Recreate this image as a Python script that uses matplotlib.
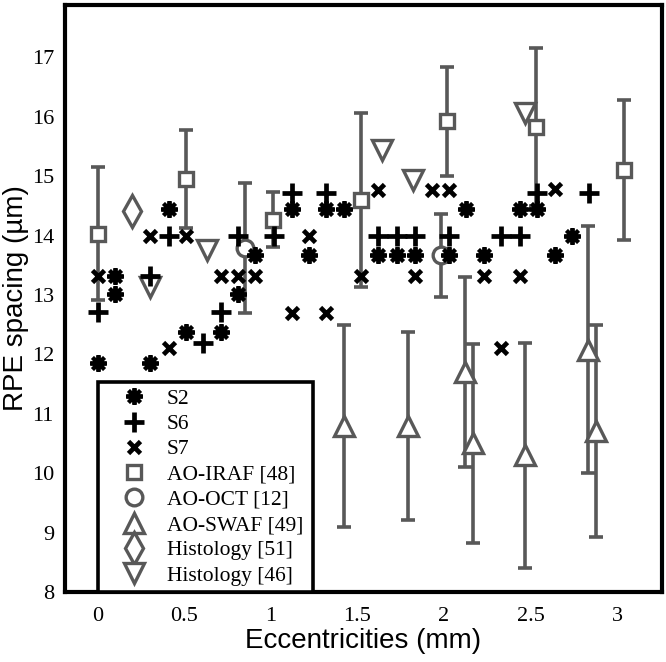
import matplotlib
matplotlib.use("Agg")
import matplotlib.pyplot as plt
from matplotlib.lines import Line2D

# subject data (eccentricity mm, RPE spacing um)
s2_x = [0, 0.10, 0.10, 0.30, 0.41, 0.51, 0.71, 0.81, 0.91, 1.12, 1.22, 1.32, 1.42,
        1.62, 1.73, 1.83, 2.03, 2.13, 2.23, 2.44, 2.54, 2.64, 2.74]
s2_y = [11.85, 13.32, 13.02, 11.85, 14.45, 12.38, 12.38, 13.02, 13.67, 14.45, 13.67, 14.45, 14.45,
        13.67, 13.67, 13.67, 13.67, 14.45, 13.67, 14.45, 14.45, 13.67, 14.0]

s6_x = [0, 0.30, 0.41, 0.61, 0.71, 0.81, 1.02, 1.12, 1.32, 1.62, 1.73, 1.83, 2.03,
        2.33, 2.44, 2.54, 2.84]
s6_y = [12.71, 13.32, 14.0, 12.19, 12.71, 14.0, 14.0, 14.72, 14.72, 14.0, 14.0, 14.0, 14.0,
        14.0, 14.0, 14.72, 14.72]

s7_x = [0, 0.30, 0.41, 0.51, 0.71, 0.81, 0.91, 1.12, 1.22, 1.32, 1.52, 1.62, 1.83,
        1.93, 2.03, 2.23, 2.33, 2.44, 2.64]
s7_y = [13.32, 14.0, 12.1, 14.0, 13.32, 13.32, 13.32, 12.69, 14.0, 12.69, 13.32, 14.77, 13.32,
        14.77, 14.77, 13.32, 12.1, 13.32, 14.78]

# literature
iraf_x = [0.0, 0.51, 1.01, 1.52, 2.02, 2.53, 3.04]
iraf_y = [14.03, 14.95, 14.27, 14.6, 15.92, 15.82, 15.1]
iraf_err = [1.12, 0.82, 0.47, 1.47, 0.92, 1.33, 1.18]

oct_x = [0.85, 1.98]
oct_y = [13.79, 13.67]
oct_err = [1.09, 0.7]

swaf_x = [1.42, 1.79, 2.12, 2.17, 2.47, 2.83, 2.88]
swaf_y = [10.79, 10.8, 11.7, 10.5, 10.3, 12.08, 10.71]
swaf_err = [1.7, 1.58, 1.6, 1.68, 1.89, 2.08, 1.78]

hist51_x = [0.2]
hist51_y = [14.41]

hist46_x = [0.30, 0.63, 1.64, 1.82, 2.47]
hist46_y = [13.13, 13.76, 15.44, 14.94, 16.06]

GRAY = '#585858'
SERIF = 'Liberation Serif'
SANS = 'Liberation Sans'

fig = plt.figure(figsize=(6.66, 6.62), dpi=100)
ax = fig.add_axes([0.0976, 0.1057, 0.8964, 0.8867])

eb = dict(fmt='none', ecolor=GRAY, elinewidth=2.6, capsize=5, capthick=2.6, zorder=1)
hollow = dict(linestyle='', color=GRAY, mfc='white', mec=GRAY, mew=2.4, zorder=2)
s2_style = dict(linestyle='', marker=(8, 2, 0), ms=12, mew=2.8, color='black')
s6_style = dict(linestyle='', marker='+', ms=14, mew=3.4, color='black')
s7_style = dict(linestyle='', marker='x', ms=8, mew=3.4, color='black')

ax.errorbar(iraf_x, iraf_y, yerr=iraf_err, **eb)
ax.errorbar(oct_x, oct_y, yerr=oct_err, **eb)
ax.errorbar(swaf_x, swaf_y, yerr=swaf_err, **eb)
ax.plot(iraf_x, iraf_y, marker='s', ms=10, **hollow)
ax.plot(oct_x, oct_y, marker='o', ms=12, **hollow)
ax.plot(swaf_x, swaf_y, marker='^', ms=15, **hollow)
ax.plot(hist51_x, hist51_y, marker='d', ms=16, **hollow)
ax.plot(hist46_x, hist46_y, marker='v', ms=15, **hollow)

ax.plot(s2_x, s2_y, zorder=3, **s2_style)
ax.plot(s6_x, s6_y, zorder=3, **s6_style)
ax.plot(s7_x, s7_y, zorder=3, **s7_style)

ax.set_xlim(-0.19, 3.26)
ax.set_ylim(8, 17.88)
ax.set_xticks([0, 0.5, 1, 1.5, 2, 2.5, 3])
ax.set_xticklabels(['0', '0.5', '1', '1.5', '2', '2.5', '3'])
ax.set_yticks(range(8, 18))
ax.tick_params(length=0, labelsize=16)
ax.tick_params(axis='x', pad=11)
ax.tick_params(axis='y', pad=8)
for lab in ax.get_xticklabels() + ax.get_yticklabels():
    lab.set_fontfamily(SERIF)
for sp in ax.spines.values():
    sp.set_linewidth(3)

ax.set_xlabel('Eccentricities (mm)', fontsize=20, family=SANS, labelpad=1)
ax.set_ylabel('RPE spacing (µm)', fontsize=20, family=SANS, labelpad=2)

handles = [
    Line2D([], [], **s2_style),
    Line2D([], [], **s6_style),
    Line2D([], [], **s7_style),
    Line2D([], [], marker='s', ms=10, **hollow),
    Line2D([], [], marker='o', ms=12, **hollow),
    Line2D([], [], marker='^', ms=15, **hollow),
    Line2D([], [], marker='d', ms=16, **hollow),
    Line2D([], [], marker='v', ms=15, **hollow),
]
labels = ['S2', 'S6', 'S7', 'AO-IRAF [48]', 'AO-OCT [12]', 'AO-SWAF [49]',
          'Histology [51]', 'Histology [46]']
leg = ax.legend(handles, labels, loc='lower left', bbox_to_anchor=(0.055, 0.0, 0.36, 0.36),
                mode='expand', prop={'family': SERIF, 'size': 15.5}, frameon=True, fancybox=False,
                edgecolor='black', framealpha=1, borderpad=0.3, labelspacing=0.24,
                handlelength=2.8, handletextpad=0.1, borderaxespad=0)
leg.get_frame().set_linewidth(2.6)

fig.savefig('out.png', dpi=100)
